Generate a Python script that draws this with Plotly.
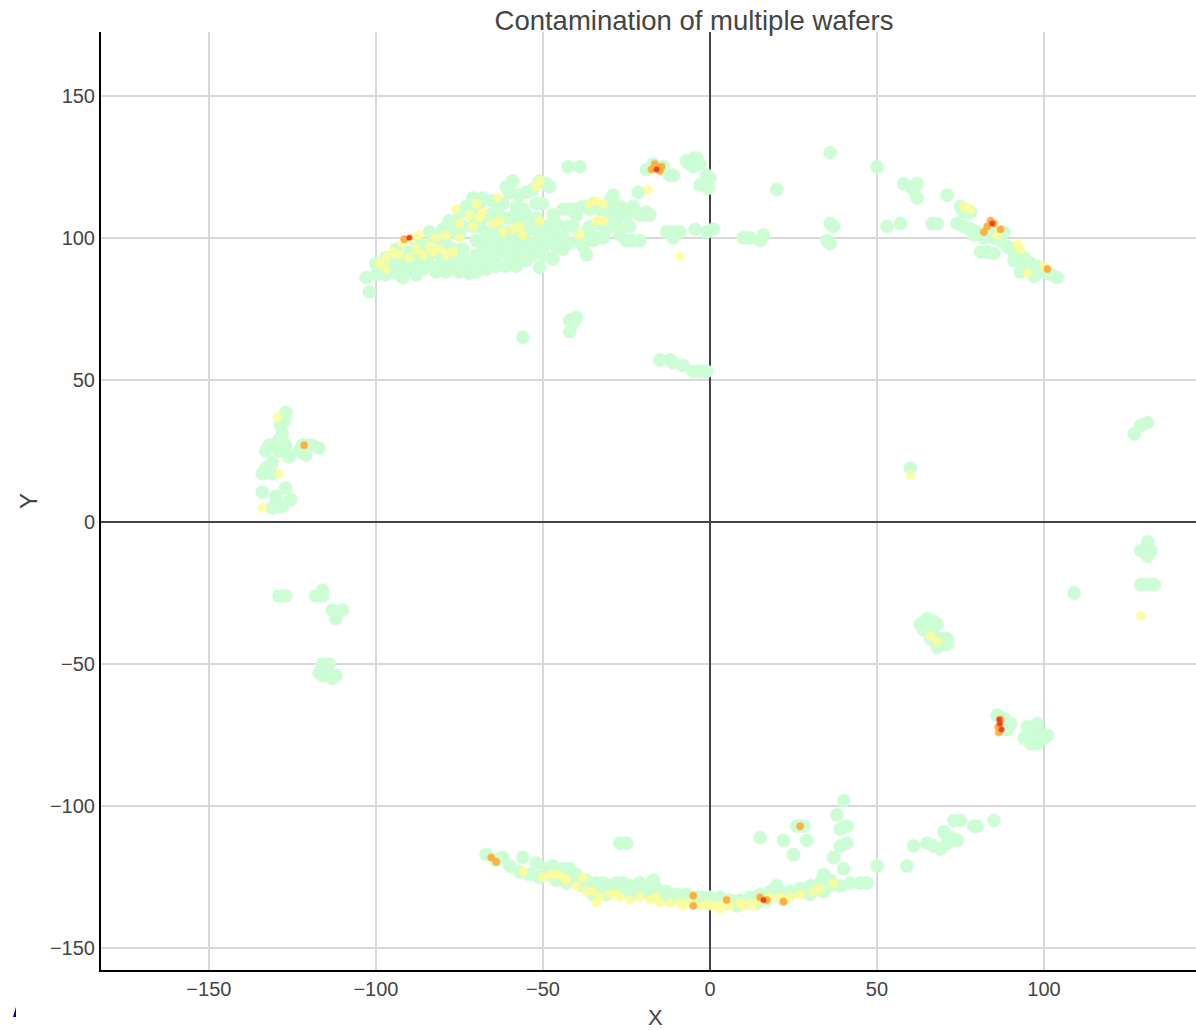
import plotly.graph_objects as go

green_points = [
 # upper-left band
 (-102,81),(-103,86),(-100,87),(-99,89),(-97,87),(-96,90),(-94,88),(-93,92),(-91,89),(-90,95),(-89,91),(-87,90),(-86,97),
 (-85,93),(-84,90),(-83,100),(-82,95),(-81,90),(-80,103),(-79,98),(-78,93),(-77,90),(-76,106),(-75,101),(-74,96),(-73,91),
 (-72,87.5),(-72,109),(-71,104),(-70,99),(-70,94),(-69,112),(-68,107),(-67,102),(-67,97),(-67,89),(-66,92),(-65,113),(-64,109),
 (-64,104),(-63,99),(-62,95),(-61,90),(-62,112),(-60,107),(-60,102),(-59,97),(-58,93),(-58,111),(-57,105),(-56,100),(-55,108),
 (-54,103),(-53,94),(-53,98),(-52,107),(-51,89.6),(-51,101),(-50,97),(-49,104),(-47,92.5),(-48,100),(-46,105),(-45,99),(-44,96),
 (-100,91),(-97,93),(-94,96),(-91,92),(-88,94),(-88,99),(-84,94),(-84,102),(-80,92),(-80,98),(-77,96),(-77,102),(-74,93),(-74,104),
 (-73,111),(-71,108),(-71,114),(-69,91),(-68,95),(-66,100),(-66,108),(-64,94),(-63,102),(-62,107),(-60,94),(-59,100),(-58,108),
 (-56,96),(-55,103),(-55,92),(-53,104),(-50,94),(-49,100),(-47,102),(-46,97),(-44,100),(-43,104),(-42,98),(-78,106),(-75,109),(-68,114),
 (-69,104),(-65,97),(-61,98),(-57,101),(-86,89),(-82,88),(-79,88),(-75,88),(-70,88),(-64,90),(-58,90),(-92,86),(-88,87),
 (-61,118),(-59,120),(-60,116),(-57,115),(-55,116),(-53,117),(-51,120),(-49,119),(-48,118),(-56,110),(-52,112),(-50,112),
 (-47,108),(-44,110),(-42,110),(-41,104),(-40,110),(-39,100),(-38,97),(-37,94),(-36,110),(-36,104),(-34,100),(-33,110),(-33,105),
 (-38,111),(-35,112),(-40,108),(-37,102),(-35,99),(-32,100),(-29,110),(-27,111),(-25,108),(-23,111),(-21,108),(-31,105),(-27,101),
 (-31,103),(-30,108),(-30,113),(-29,115),(-28,110),(-27,103),(-26,109),(-25,99),(-24,110),(-23,99),(-22,109),(-21,99),(-20,108),
 (-19,109),(-18,108),(-28,106),(-24,104),(-42.5,125),(-39,125),(-21.5,116),(-11,100),(-13,102),(-11,102),(-9,102),(-4.5,103),(-1,102),(1,103),
 # top centre
 (-7,127),(-5,128),(-5,125),(-3,126),(-1,122),(0,121),(-0.5,117.5),(-3,118.5),(-19,124),(-17,126),(-14,125),(-12,122),(-11,122),(-6,126),(-4,128),
 (20,117),(36,130),(36,105),(37,104),(35,99),(36,98),(16,101),(15,99),(12,100),(10,100),(50,125),(53,104),(57,105),(58,119),(60,118),(62,119),(61,117),(62,114),
 (66.5,105),(68,105),(71,115),
 # right arc
 (74,105),(76,104),(78,103),(79,101),(80,102),(82,100),(85,100),(87,99),(89,97),(90,96),(92,95),(94,93),(96,91),(98,90),(100,88),(102,87),(104,86),
 (75,111),(78,109),(76,109),(83,95),(85,94.5),(81,95),(93,88),(97,86.5),(88,102),(84,103),(91,92),(94,90),
 # middle
 (-56,65),(-42,71),(-40,72),(-41,70),(-42,67),(-15,57),(-12,57),(-11,56),(-8,55),(-5,53),(-3,53),(-1,53),
 # left group
 (-127,38.5),(-127.5,35.5),(-128.5,34),(-129,29),(-132,27),(-127,27),(-133,25),(-129,25),(-126,23),(-128,31),(-130,27),
 (-121,27),(-119,27),(-123,25),(-121,23.5),(-117,26),(-122,27),(-131,21),(-133,19),(-134,17),(-131,17),
 (-134,10.5),(-127,12),(-130,9),(-125.5,8),(-131,5),(-129,5.5),(-128,5.5),
 # right side
 (131,35),(129,34),(127,31),(60,19),(130,-10),(131,-7),(132,-10),(129,-10),(131,-12),(129,-22),(131,-22),(133,-22),(109,-25),
 (-129,-26),(-127,-26),(-118,-26),(-116,-24),(-116,-26),(-113,-31),(-110,-31),(-112,-34),(-116,-50),(-114,-50),(-116,-54),(-114,-54),(-113,-55),(-117,-53),(-112,-54),
 (65,-36),(67,-35),(66,-38),(67,-40),(69,-41),(70,-43),(68,-42),(63,-36),(65,-34),(68,-36),(64,-38),(66,-41),(71,-41),(71,-43),(68,-44),
 (88,-71),(89,-73),(88,-69),(90,-71),(86,-68),(97,-72),(98,-74),(96,-75),(99,-76),(97,-76),(96,-73),(94,-76),(100,-76),(98,-71),(95,-72),(98,-78),(101,-75),(96,-78),
 # lower right scatter
 (40,-98),(38,-103),(41,-107),(39,-108),(41,-113),(39,-114),(28,-107),(26,-107),(15,-111),(22,-112),(29,-112),(25,-117),(34,-124),(37,-118),(40,-122),
 (50,-121),(59,-121),(61,-114),(65,-113),(67,-114),(69,-115),(71,-113),(73,-105),(75,-105),(70,-109),(72,-111),(74,-112),(79,-107),(80,-107),(85,-105),
 # lower arc
 (-67,-117),(-64,-119),(-62,-118),(-60,-121),(-56,-118),(-57,-123),(-54,-124),(-52,-120),(-51,-125),(-49,-122),(-47,-121),(-45,-123),(-44,-122),
 (-42,-122),(-41,-125),(-40,-124),(-38,-128),(-36,-129),(-34,-127),(-32,-127),(-30,-128),(-28,-127),(-26,-127),(-24,-128),(-22,-129),(-20,-129),
 (-27,-113),(-25,-113),(-17,-126),(-13,-130),(-10,-131),(-7,-131),(-4,-132),(-2,-132),(0,-132),(3,-132),(6,-133),(9,-133),(12,-132),(15,-131),
 (18,-130),(21,-130),(24,-130),(27,-129),(30,-128),(33,-127),(36,-128),(39,-128),(42,-127),(45,-127),(47,-127),
 (-35,-131),(-31,-131),(-27,-130),(-23,-131),(-18,-131),(-15,-132),(30,-131),(34,-130),(22,-133),(-12,-133),(36,-126),(20,-128),
 (-37,-126),(-33,-128),(-29,-129),(-25,-130),(-21,-127),(-19,-130),(-16,-129),(-48,-124),(-46,-126),(-43,-127),(-15,-130),
 (-8,-133),(-5,-134),(-1,-134),(2,-134),(5,-134),(8,-135),(11,-134),(14,-134),(17,-133),(24,-131),(28,-130),(32,-129),
]

yellow_points = [
 (-99,91),(-97,89),(-95,95),(-93,94),(-92,98),(-90,93),(-88,96),(-87,101),(-86,94),(-84,97),(-82,100),(-81,96),(-79,94),(-77,95),(-75,100),
 (-83,95),(-89,100),(-79,101),
 (-76,110),(-75,105),(-72,108),(-71,104),(-69,107),(-70,112),(-68,109),
 (-65,105),(-63,106),(-62,102),(-59,103),(-57,104),(-56,101),(-63.5,114),(-51,120),(-52,118),(-51,106),
 (-36,112),(-34,113),(-32,112),(-34,106),(-32,106),(-9,93.5),(-18.5,117),(-39,101),
 (-129.5,37),(-129,17),(-134,5),(60,16.5),(129,-33),(66,-40),(68,-42),(76,111),(78,110),(92,98),(95,87.5),(93,96),(86,101),(100,90),
 (-38,-125),(-46,-124),(-43,-126),(-48,-124),(-40,-128),(-37,-130),(-33,-132),(-30,-131),(-27,-132),(-24,-133),(-21,-132),(-18,-133),(-15,-134),
 (-12,-134),(-9,-134),(-6,-134),(-3,-135),(-1,-134.5),(0,-135),(2,-135),(4,-134),(6,-135),(9,-134),(12,-134),(15,-133),(18,-132),(21,-132),(24,-132),(27,-131),
 (-56,-123),(-50,-125),(-34,-134),(31,-130),(33,-129),(-97,93),(37,-127),(-44,-125),(-35,-130),(-28,-131),(-16,-132),(-8,-135),(3,-136),(10,-135),(13,-135),
]

orange_points = [
 (-17.5,124),(-16,124.5),(-15,123.5),(-14.5,125),(-16.5,126),(-91.5,99.5),(-65.5,-118),(-64,-119.5),(27,-107),(-5,-131.5),(-5,-135),(5,-133),(17,-133),(15,-132),(22,-133.5),
 (83,104),(85,105),(87,103),(82,102),(84,106),(101,89),(87,-69.5),(86.5,-74),(86.3,-72),(-121.5,27),
]

red_points = [
 (86.8,-71),(87.3,-73),(86.6,-69.5),(84.5,105),(-90,100),(16,-133),(-16,124),
]

point_sets = [
    (green_points, "#ccfdd4", "rgba(204,253,212,0.45)", 13, 1),
    (yellow_points, "#fffc9a", "rgba(255,252,154,0.45)", 9, 0.85),
    (orange_points, "#ffb040", "rgba(255,176,64,0.5)", 7, 1),
    (red_points, "#f04020", "rgba(240,64,32,0.5)", 5, 1),
]

fig = go.Figure()
for pts, colour, halo, size, alpha in point_sets:
    fig.add_trace(go.Scatter(
        x=[p[0] for p in pts], y=[p[1] for p in pts], mode="markers",
        marker=dict(color=colour, size=size, opacity=alpha, line=dict(color=halo, width=1.5)),
        showlegend=False, hoverinfo="skip"))

axis = dict(
    showgrid=True, gridcolor="#d8d8d8", gridwidth=2,
    zeroline=True, zerolinecolor="#444444", zerolinewidth=2,
    showline=True, linecolor="black", linewidth=2, ticks="",
    dtick=50, tickfont=dict(size=20, color="#444444"),
)
fig.update_layout(
    width=1196, height=1030, autosize=False,
    paper_bgcolor="white", plot_bgcolor="white",
    font=dict(family="Liberation Sans, Arial, sans-serif", color="#444444"),
    title=dict(text="Contamination of multiple wafers", font=dict(size=27.5, color="#444444"),
               x=694/1196, xanchor="center", y=1-20/1030, yanchor="middle"),
    margin=dict(l=101, r=0, t=32, b=60),
    xaxis=dict(axis, range=[-182.3, 145.5]),
    yaxis=dict(axis, range=[-157.6, 172.4], title=dict(text="Y", font=dict(size=24), standoff=6)),
    annotations=[dict(text="X", xref="paper", yref="paper", x=(655-101)/1095, y=-47/938,
                      xanchor="center", yanchor="middle", showarrow=False, font=dict(size=22, color="#444444"))],
    shapes=[dict(type="path", xref="paper", yref="paper",
                 path=f"M {(13-101)/1095} {-47/938} L {(16-101)/1095} {-47/938} L {(16-101)/1095} {-37/938} Z",
                 fillcolor="#0000a0", line=dict(width=0))],
)
fig.write_html("out.html", config=dict(displayModeBar=False),
               post_script="document.body.style.margin='0';document.body.style.overflow='hidden';")
